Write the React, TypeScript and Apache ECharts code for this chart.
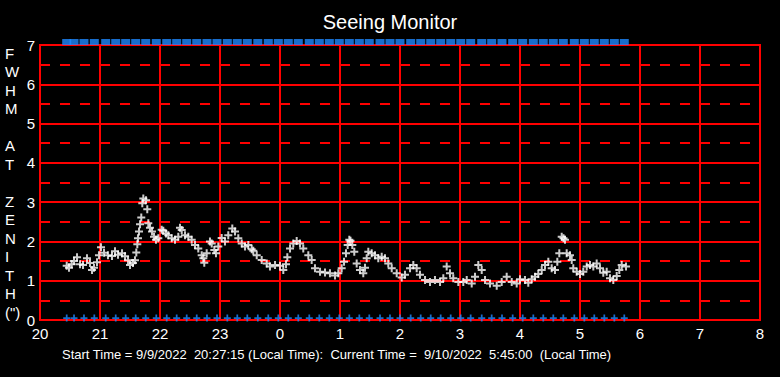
import React, { useEffect, useRef } from "react";
import * as echarts from "echarts";

// X tick labels (hours, wrapping past midnight)
const xTickLabels = ["20", "21", "22", "23", "0", "1", "2", "3", "4", "5", "6", "7", "8"];
const yTickLabels = ["0", "1", "2", "3", "4", "5", "6", "7"];

// Seeing measurements: time (hours since midnight of start day, >24 = next day) and FWHM (arcsec)
const seeingHours = [
  20.445, 20.483, 20.528, 20.567, 20.617, 20.667, 20.717, 20.783, 20.833, 20.867, 20.9, 20.95, 20.983,
  21.017, 21.067, 21.133, 21.2, 21.25, 21.3, 21.367, 21.417, 21.467, 21.5, 21.55, 21.583, 21.605, 21.622,
  21.633, 21.65, 21.667, 21.688, 21.705, 21.722, 21.767, 21.788, 21.805, 21.833, 21.867, 21.9, 21.933,
  21.972, 22.028, 22.055, 22.1, 22.138, 22.195, 22.25, 22.305, 22.333, 22.362, 22.417, 22.472, 22.528,
  22.583, 22.638, 22.695, 22.722, 22.738, 22.778, 22.833, 22.862, 22.905, 22.933, 22.972, 23.028, 23.083,
  23.138, 23.205, 23.25, 23.305, 23.362, 23.417, 23.472, 23.528, 23.555, 23.612, 23.695, 23.778, 23.833,
  23.917, 24.0, 24.055, 24.1, 24.122, 24.167, 24.222, 24.278, 24.333, 24.388, 24.472, 24.528, 24.583,
  24.667, 24.75, 24.833, 24.917, 24.972, 25.028, 25.067, 25.1, 25.128, 25.155, 25.175, 25.205, 25.238,
  25.278, 25.333, 25.388, 25.417, 25.445, 25.472, 25.528, 25.583, 25.638, 25.695, 25.75, 25.805, 25.862,
  25.945, 26.028, 26.083, 26.167, 26.222, 26.278, 26.333, 26.417, 26.5, 26.583, 26.667, 26.722, 26.778,
  26.833, 26.888, 26.972, 27.055, 27.112, 27.195, 27.25, 27.305, 27.362, 27.417, 27.5, 27.612, 27.695,
  27.778, 27.862, 27.945, 28.0, 28.083, 28.138, 28.195, 28.25, 28.305, 28.362, 28.417, 28.472, 28.528,
  28.583, 28.622, 28.655, 28.695, 28.725, 28.75, 28.778, 28.833, 28.862, 28.888, 28.945, 29.0, 29.055,
  29.112, 29.167, 29.222, 29.278, 29.333, 29.388, 29.445, 29.5, 29.555, 29.612, 29.655, 29.695, 29.767,
];
const seeingFwhm = [
  1.38, 1.33, 1.42, 1.5, 1.6, 1.42, 1.4, 1.57, 1.45, 1.27, 1.33, 1.47, 1.65,
  1.85, 1.71, 1.65, 1.63, 1.75, 1.66, 1.7, 1.62, 1.52, 1.4, 1.45, 1.52, 1.72, 1.93,
  2.08, 2.25, 2.44, 2.61, 2.97, 3.09, 3.05, 2.82, 2.46, 2.35, 2.25, 2.12, 2.04,
  2.08, 2.3, 2.27, 2.2, 2.16, 2.08, 2.04, 2.12, 2.35, 2.29, 2.16, 2.12, 2.04,
  1.91, 1.82, 1.65, 1.57, 1.46, 1.7, 2.0, 1.95, 1.78, 1.7, 1.87, 2.09, 2.0,
  2.16, 2.33, 2.25, 2.08, 1.95, 1.87, 1.91, 1.8, 1.76, 1.65, 1.53, 1.44, 1.36,
  1.4, 1.38, 1.27, 1.42, 1.6, 1.82, 1.95, 2.01, 1.95, 1.82, 1.65, 1.53, 1.32,
  1.23, 1.21, 1.19, 1.13, 1.19, 1.32, 1.48, 1.7, 1.91, 2.04, 2.02, 1.91, 1.74,
  1.44, 1.27, 1.19, 1.33, 1.57, 1.74, 1.7, 1.65, 1.57, 1.61, 1.57, 1.44, 1.32,
  1.19, 1.08, 1.15, 1.32, 1.4, 1.32, 1.15, 1.02, 0.97, 1.02, 0.97, 1.06, 1.36,
  1.19, 1.06, 0.97, 0.97, 1.02, 0.93, 1.1, 1.4, 1.27, 1.02, 0.93, 0.87, 0.97,
  1.1, 0.97, 0.93, 1.04, 1.02, 0.95, 1.04, 1.1, 1.17, 1.27, 1.4, 1.48, 1.32,
  1.27, 1.48, 1.7, 2.12, 2.08, 2.04, 1.7, 1.65, 1.53, 1.32, 1.23, 1.17, 1.23,
  1.36, 1.4, 1.36, 1.44, 1.32, 1.2, 1.23, 1.06, 1.02, 1.12, 1.27, 1.4, 1.36,
];

// Status marker times (every ~10 minutes)
const markerHours = [
  20.445, 20.567, 20.733, 20.905, 21.095, 21.262, 21.428, 21.595, 21.762, 21.938, 22.112, 22.278,
  22.445, 22.612, 22.783, 22.95, 23.122, 23.288, 23.455, 23.63, 23.805, 23.972, 24.138, 24.305,
  24.488, 24.655, 24.822, 24.988, 25.155, 25.322, 25.488, 25.667, 25.833, 26.0, 26.178, 26.345,
  26.512, 26.678, 26.845, 27.012, 27.178, 27.362, 27.528, 27.7, 27.878, 28.045, 28.222, 28.388,
  28.555, 28.722, 28.905, 29.072, 29.238, 29.405, 29.572, 29.738,
];
const topMarkerValue = 7;
const bottomMarkerValue = 0.05;

const titleText = "Seeing Monitor";
const yAxisTitleLetters = ["F", "W", "H", "M", "", "A", "T", "", "Z", "E", "N", "I", "T", "H", "(\")"];
const footerText = "Start Time = 9/9/2022  20:27:15 (Local Time):  Current Time =  9/10/2022  5:45:00  (Local Time)";

const PLUS = "path://M3,0H5V3H8V5H5V8H3V5H0V3H3Z";
const BLUE = "#1e88ff";
const RED = "#ff0000";
const FONT = "Liberation Sans, Arial, sans-serif";

export default function App() {
  const ref = useRef<HTMLDivElement>(null);
  useEffect(() => {
    document.body.style.margin = "0";
    document.body.style.background = "#000";
    const chart = echarts.init(ref.current!, null, { renderer: "svg" });
    const xMin = 20;
    chart.setOption({
      animation: false,
      backgroundColor: "#000000",
      title: {
        text: titleText,
        left: "center",
        top: 7,
        textStyle: { color: "#ffffff", fontSize: 20, fontWeight: "normal", fontFamily: FONT },
      },
      grid: {
        left: 40, right: 20, top: 45, bottom: 57,
        show: true, borderColor: RED, borderWidth: 2, backgroundColor: "transparent",
      },
      xAxis: {
        type: "value", min: xMin, max: xMin + xTickLabels.length - 1, interval: 1,
        axisLine: { show: true, lineStyle: { color: RED, width: 2 } },
        axisTick: { show: false },
        splitLine: { show: true, lineStyle: { color: RED, width: 2 } },
        axisLabel: {
          color: "#ffffff", fontSize: 15, fontFamily: FONT, margin: 6,
          showMinLabel: true, showMaxLabel: true,
          formatter: (v: number) => xTickLabels[Math.round(v - xMin)] ?? "",
        },
      },
      yAxis: {
        type: "value", min: 0, max: yTickLabels.length - 1, interval: 1,
        axisLine: { show: true, lineStyle: { color: RED, width: 2 } },
        axisTick: { show: false },
        splitLine: { show: true, lineStyle: { color: RED, width: 2 } },
        minorTick: { show: false, splitNumber: 2 },
        minorSplitLine: { show: true, lineStyle: { color: RED, width: 2, type: [10, 10] } },
        axisLabel: {
          color: "#ffffff", fontSize: 15, fontFamily: FONT, margin: 5,
          formatter: (v: number) => yTickLabels[Math.round(v)] ?? "",
        },
      },
      graphic: [
        {
          type: "text", left: 5, top: 44,
          style: {
            text: yAxisTitleLetters.join("\n"), fill: "#ffffff", fontSize: 15, fontFamily: FONT,
            lineHeight: 18.5, align: "center", width: 16,
          },
        },
        {
          type: "text", left: 62, top: 348,
          style: { text: footerText, fill: "#ffffff", fontSize: 13, fontFamily: FONT },
        },
      ],
      series: [
        {
          type: "scatter", name: "top", clip: false,
          data: markerHours.map((h) => [h, topMarkerValue]),
          symbol: "rect", symbolSize: [9, 6], symbolOffset: [0, -3],
          itemStyle: { color: BLUE },
        },
        {
          type: "scatter", name: "bottom", clip: false,
          data: markerHours.map((h) => [h, bottomMarkerValue]),
          symbol: PLUS, symbolSize: 7,
          itemStyle: { color: BLUE },
        },
        {
          type: "scatter", name: "FWHM",
          data: seeingHours.map((h, i) => [h, seeingFwhm[i]]),
          symbol: PLUS, symbolSize: 8,
          itemStyle: { color: "#ffffff" },
        },
      ],
    });
    return () => chart.dispose();
  }, []);
  return <div ref={ref} style={{ position: "fixed", left: 0, top: 0, width: 780, height: 377, background: "#000" }} />;
}
